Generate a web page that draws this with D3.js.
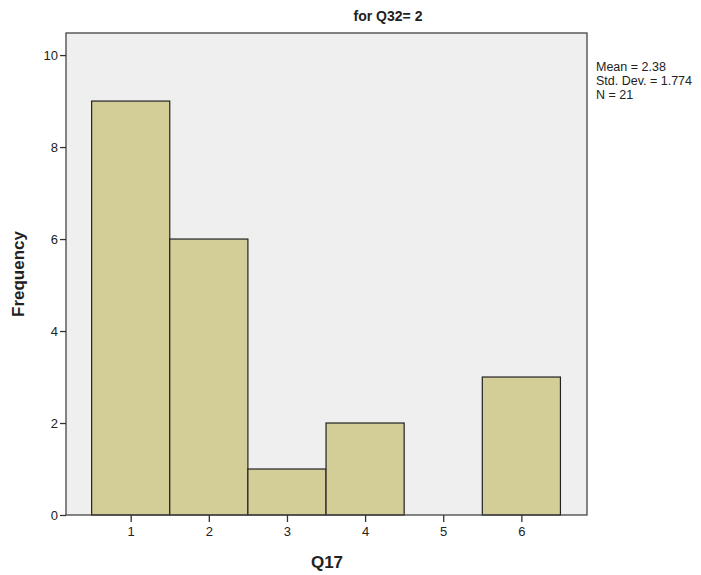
<!DOCTYPE html>
<html><head><meta charset="utf-8">
<script src="https://cdn.jsdelivr.net/npm/d3@7"></script>
<style>
body{margin:0;background:#fff;}
svg text{font-family:"Liberation Sans Narrow","Liberation Sans",Arial,sans-serif;}
</style></head>
<body><svg id="c" width="701" height="575"></svg>
<script>
const categories = [1, 2, 3, 4, 5, 6];
const frequencies = [9, 6, 1, 2, 0, 3];
const yTicks = [0, 2, 4, 6, 8, 10];
const statsLines = ["Mean = 2.38", "Std. Dev. = 1.774", "N = 21"];
const title = "for Q32= 2";
const xLabel = "Q17";
const yLabel = "Frequency";

const svg = d3.select("#c");
const m = {left: 66, right: 587, top: 33, bottom: 515};
const x = d3.scaleLinear().domain([0.172, 6.84]).range([m.left, m.right]);
const y = d3.scaleLinear().domain([0, 10.48]).range([m.bottom, m.top]);

svg.append("rect").attr("x", m.left).attr("y", m.top)
  .attr("width", m.right - m.left).attr("height", m.bottom - m.top)
  .attr("fill", "#efefef");

svg.append("g").selectAll("rect").data(categories).join("rect")
  .attr("x", (d) => x(d - 0.5))
  .attr("y", (d, i) => y(frequencies[i]))
  .attr("width", (d) => x(d + 0.5) - x(d - 0.5))
  .attr("height", (d, i) => y(0) - y(frequencies[i]))
  .attr("fill", (d, i) => frequencies[i] > 0 ? "#d3ce98" : "none")
  .attr("stroke", (d, i) => frequencies[i] > 0 ? "#222" : "none")
  .attr("stroke-width", 1.2);

svg.append("rect").attr("x", m.left).attr("y", m.top)
  .attr("width", m.right - m.left).attr("height", m.bottom - m.top)
  .attr("fill", "none").attr("stroke", "#444").attr("stroke-width", 1.3);

const yAxis = svg.append("g").attr("transform", `translate(${m.left},0)`)
  .call(d3.axisLeft(y).tickValues(yTicks).tickFormat(d3.format("d")).tickSize(6).tickPadding(2));
yAxis.select(".domain").remove();
yAxis.selectAll("line").attr("stroke", "#333").attr("stroke-width", 1.3);
yAxis.selectAll("text").attr("font-size", 13).attr("fill", "#222")
  .style("font-family", '"Liberation Sans Narrow","Liberation Sans",Arial,sans-serif');

const xAxis = svg.append("g").attr("transform", `translate(0,${m.bottom})`)
  .call(d3.axisBottom(x).tickValues(categories).tickFormat(d3.format("d")).tickSize(7).tickPadding(5));
xAxis.select(".domain").remove();
xAxis.selectAll("line").attr("stroke", "#333").attr("stroke-width", 1.3);
xAxis.selectAll("text").attr("font-size", 13).attr("fill", "#222")
  .style("font-family", '"Liberation Sans Narrow","Liberation Sans",Arial,sans-serif');

svg.append("text").attr("x", 388).attr("y", 21).attr("text-anchor", "middle")
  .attr("font-size", 14).attr("font-weight", "bold").attr("fill", "#222").text(title);

svg.append("text").attr("x", 327).attr("y", 568).attr("text-anchor", "middle")
  .attr("font-size", 17).attr("font-weight", "bold").attr("fill", "#222")
  .style("font-family", '"Liberation Sans",Arial,sans-serif').text(xLabel);

svg.append("text").attr("transform", "translate(24,274) rotate(-90)")
  .attr("text-anchor", "middle").attr("font-size", 17).attr("font-weight", "bold")
  .attr("fill", "#222").style("font-family", '"Liberation Sans",Arial,sans-serif').text(yLabel);

svg.append("g").selectAll("text").data(statsLines).join("text")
  .attr("x", 596).attr("y", (d, i) => 71 + i * 14)
  .attr("font-size", 12.5).attr("fill", "#222").text((d) => d);
</script></body></html>
